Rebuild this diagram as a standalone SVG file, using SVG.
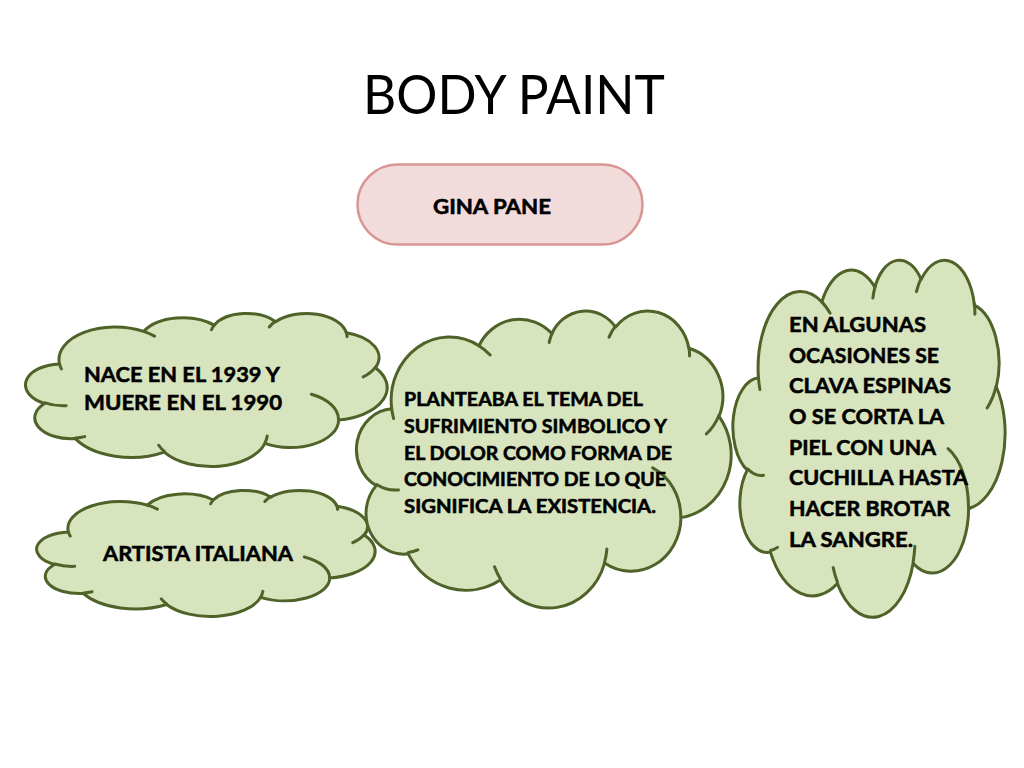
<svg xmlns="http://www.w3.org/2000/svg" xmlns:xlink="http://www.w3.org/1999/xlink" width="1024" height="768" viewBox="0 0 1024 768">
<style>
.cl{fill:#d7e4bd;stroke:#4f6228;stroke-width:3;vector-effect:non-scaling-stroke;stroke-linejoin:round}
.cli{fill:none;stroke:#4f6228;stroke-width:3;vector-effect:non-scaling-stroke;stroke-linecap:round}
.t{font-family:Lato,"Open Sans","Liberation Sans",sans-serif;font-weight:bold;fill:#000;stroke:#000;stroke-width:0.55}
.title{font-family:Lato,"Open Sans","Liberation Sans",sans-serif;font-weight:normal;font-size:54px;fill:#000}
.pill{fill:#f2dcdb;stroke:#d99594;stroke-width:2.5}
</style>
<defs>
<symbol id="cloud" viewBox="0 0 43200 43200" preserveAspectRatio="none" overflow="visible">
<path class="cl" d="M3900 14370 A6753 9190 0 0 1 14005 5200 A5333 7267 0 0 1 22456 3430 A4365 5945 0 0 1 29832 2478 A4857 6595 0 0 1 38317 5572 A5333 7273 0 0 1 41818 15456 A6775 9220 0 0 1 37403 30198 A5785 7867 0 0 1 28554 36808 A6752 9215 0 0 1 16479 39261 A7720 10543 0 0 1 5800 35468 A4360 5918 0 0 1 2110 25544 A4345 5945 0 0 1 3900 14370 Z"/>
<path class="cli" d="M4693 26177 A4345 5945 0 0 1 2159 25380 M6928 34899 A4360 5918 0 0 1 5819 35281 M16478 39090 A6752 9215 0 0 1 15810 37348 M28827 34751 A6752 9215 0 0 1 28560 36660 M34129 22954 A5785 7867 0 0 1 37379 30089 M41798 15354 A5333 7273 0 0 1 40350 18029 M38324 5426 A4857 6595 0 0 1 38401 6690 M29078 3952 A4857 6595 0 0 1 29820 2340 M22141 4720 A4365 5945 0 0 1 22500 3330 M14000 5192 A6753 9190 0 0 1 15302 6545 M4127 15789 A6753 9190 0 0 1 3901 14370"/>
</symbol>
</defs>
<rect width="1024" height="768" fill="#fff"/>
<g id="title">
<text class="title" x="363" y="114" textLength="302" lengthAdjust="spacingAndGlyphs">BODY PAINT</text>
</g>
<g id="connectors"></g>
<g id="gina-pane">
<rect class="pill" x="357.5" y="164.5" width="285" height="80" rx="40" ry="40"/>
<text class="t" x="433" y="214" font-size="20" textLength="118" lengthAdjust="spacingAndGlyphs">GINA PANE</text>
</g>
<g id="nace">
<use href="#cloud" x="27" y="313" width="360" height="153"/>
<text class="t" font-size="21"><tspan x="84" y="382" textLength="196" lengthAdjust="spacingAndGlyphs">NACE EN EL 1939 Y</tspan><tspan x="84" y="410" textLength="198" lengthAdjust="spacingAndGlyphs">MUERE EN EL 1990</tspan></text>
</g>
<g id="artista">
<use href="#cloud" x="38" y="490" width="337" height="126"/>
<text class="t" x="103" y="561" font-size="21" textLength="190" lengthAdjust="spacingAndGlyphs">ARTISTA ITALIANA</text>
</g>
<g id="planteaba">
<use href="#cloud" x="358" y="310" width="373" height="297"/>
<text class="t" font-size="18.5"><tspan x="404" y="406" textLength="239" lengthAdjust="spacingAndGlyphs">PLANTEABA EL TEMA DEL</tspan><tspan x="404" y="433" textLength="263" lengthAdjust="spacingAndGlyphs">SUFRIMIENTO SIMBOLICO Y</tspan><tspan x="404" y="460" textLength="268" lengthAdjust="spacingAndGlyphs">EL DOLOR COMO FORMA DE</tspan><tspan x="404" y="486" textLength="262" lengthAdjust="spacingAndGlyphs">CONOCIMIENTO DE LO QUE</tspan><tspan x="404" y="513" textLength="252" lengthAdjust="spacingAndGlyphs">SIGNIFICA LA EXISTENCIA.</tspan></text>
</g>
<g id="espinas">
<use href="#cloud" x="734" y="259" width="271" height="357"/>
<text class="t" font-size="21"><tspan x="789" y="332" textLength="137" lengthAdjust="spacingAndGlyphs">EN ALGUNAS</tspan><tspan x="789" y="362.5" textLength="150" lengthAdjust="spacingAndGlyphs">OCASIONES SE</tspan><tspan x="789" y="393" textLength="162" lengthAdjust="spacingAndGlyphs">CLAVA ESPINAS</tspan><tspan x="789" y="424" textLength="155" lengthAdjust="spacingAndGlyphs">O SE CORTA LA</tspan><tspan x="789" y="454.5" textLength="147" lengthAdjust="spacingAndGlyphs">PIEL CON UNA</tspan><tspan x="789" y="485" textLength="179" lengthAdjust="spacingAndGlyphs">CUCHILLA HASTA</tspan><tspan x="789" y="516" textLength="161" lengthAdjust="spacingAndGlyphs">HACER BROTAR</tspan><tspan x="789" y="546.5" textLength="124" lengthAdjust="spacingAndGlyphs">LA SANGRE.</tspan></text>
</g>
</svg>
